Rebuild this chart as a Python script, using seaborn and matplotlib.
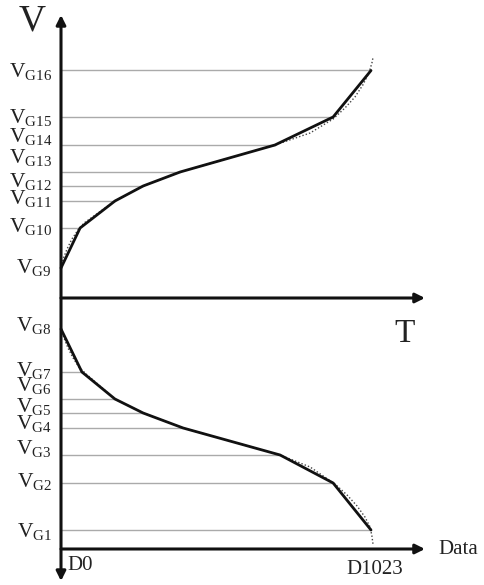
import matplotlib
matplotlib.use("Agg")
import matplotlib.pyplot as plt
import seaborn as sns
import pandas as pd

sns.set_theme(style="white")
plt.rcParams['font.family'] = ['Liberation Serif', 'DejaVu Serif']
plt.rcParams['mathtext.fontset'] = 'custom'
plt.rcParams['mathtext.rm'] = 'Liberation Serif'

# ---- data ----
upper_labels = ["G9", "G10", "G11", "G12", "G13", "G14", "G15", "G16"]
upper_levels = [3.0, 7.0, 9.7, 11.2, 12.6, 15.3, 18.1, 22.75]
upper_codes = [0, 63, 178, 271, 393, 706, 898, 1023]

lower_labels = ["G8", "G7", "G6", "G5", "G4", "G3", "G2", "G1"]
lower_levels = [-3.1, -7.4, -10.1, -11.5, -13.0, -15.7, -18.5, -23.2]
lower_codes = [0, 69, 178, 271, 403, 723, 898, 1023]

upper_ideal_codes = [0, 7, 20, 36, 56, 76, 178, 271, 393, 706, 822, 898, 937, 970, 996, 1016, 1026, 1030]
upper_ideal_v = [3.0, 3.9, 4.9, 5.9, 6.8, 7.5, 9.7, 11.2, 12.6, 15.3, 16.5, 17.9, 19.0, 20.1, 21.3, 22.5, 23.5, 24.1]
lower_ideal_codes = [0, 10, 23, 40, 59, 83, 178, 271, 403, 723, 822, 904, 944, 977, 1003, 1020, 1026, 1030]
lower_ideal_v = [-3.1, -4.0, -5.0, -6.0, -6.9, -7.6, -10.1, -11.5, -13.0, -15.7, -16.9, -18.6, -19.7, -20.8, -21.9, -22.9, -23.8, -24.7]

data_axis_level = -25.1

# label placement (layout only): baseline heights of the level labels
upper_label_y = [2.5, 6.6, 9.4, 11.1, 13.5, 15.6, 17.5, 22.15]
lower_label_y = [-3.3, -7.8, -9.3, -11.4, -13.1, -15.6, -18.9, -23.9]

fig = plt.figure(figsize=(4.84, 5.85), dpi=100)
ax = fig.add_axes([0, 0, 1, 1])
ax.set_xlim(-201.3, 1395.9)
ax.set_ylim(-28.7, 29.8)
ax.axis('off')

# reference lines
for levels, codes in ((upper_levels, upper_codes), (lower_levels, lower_codes)):
    for lv, cd in zip(levels[1:], codes[1:]):
        ax.plot([0, cd], [lv, lv], color='#aaaaaa', lw=1.0, zorder=1)

# ideal (dotted) curves
for cx, vy in ((upper_ideal_codes, upper_ideal_v), (lower_ideal_codes, lower_ideal_v)):
    df = pd.DataFrame({'code': cx, 'v': vy})
    sns.lineplot(data=df, x='code', y='v', sort=False, estimator=None, ax=ax,
                 color='#444444', lw=1.0, linestyle=(0, (1, 1.5)), zorder=2)

# piecewise-linear curves
for cx, vy in ((upper_codes, upper_levels), (lower_codes, lower_levels)):
    df = pd.DataFrame({'code': cx, 'v': vy})
    sns.lineplot(data=df, x='code', y='v', sort=False, estimator=None, ax=ax,
                 color='#111111', lw=2.0, zorder=3)

# axes with arrows
arrow_kw = dict(color='#111111', lw=2.2, shrinkA=0, shrinkB=0, mutation_scale=14)
ax.annotate('', xy=(0, 28.3), xytext=(0, -28.3),
            arrowprops=dict(arrowstyle='<|-|>', **arrow_kw), zorder=4)
ax.annotate('', xy=(1201, 0), xytext=(0, 0),
            arrowprops=dict(arrowstyle='-|>', **arrow_kw), zorder=4)
ax.annotate('', xy=(1201, data_axis_level), xytext=(0, data_axis_level),
            arrowprops=dict(arrowstyle='-|>', **arrow_kw), zorder=4)

# level labels
for labels, ys in ((upper_labels, upper_label_y), (lower_labels, lower_label_y)):
    for lb, y in zip(labels, ys):
        ax.text(-30, y, r'$\mathregular{V_{%s}}$' % lb, ha='right', va='baseline',
                fontsize=15.5, color='#222222')

ax.text(-96, 27.7, 'V', ha='center', va='center', fontsize=27, color='#222222')
ax.text(1135, -3.6, 'T', ha='center', va='center', fontsize=24, color='#222222')
ax.text(1244, data_axis_level, 'Data', ha='left', va='center', fontsize=15, color='#222222')
ax.text(20, -26.7, 'D0', ha='left', va='center', fontsize=15, color='#222222')
ax.text(1036, -27.2, 'D1023', ha='center', va='center', fontsize=15, color='#222222')

fig.savefig('out.png', dpi=100)
